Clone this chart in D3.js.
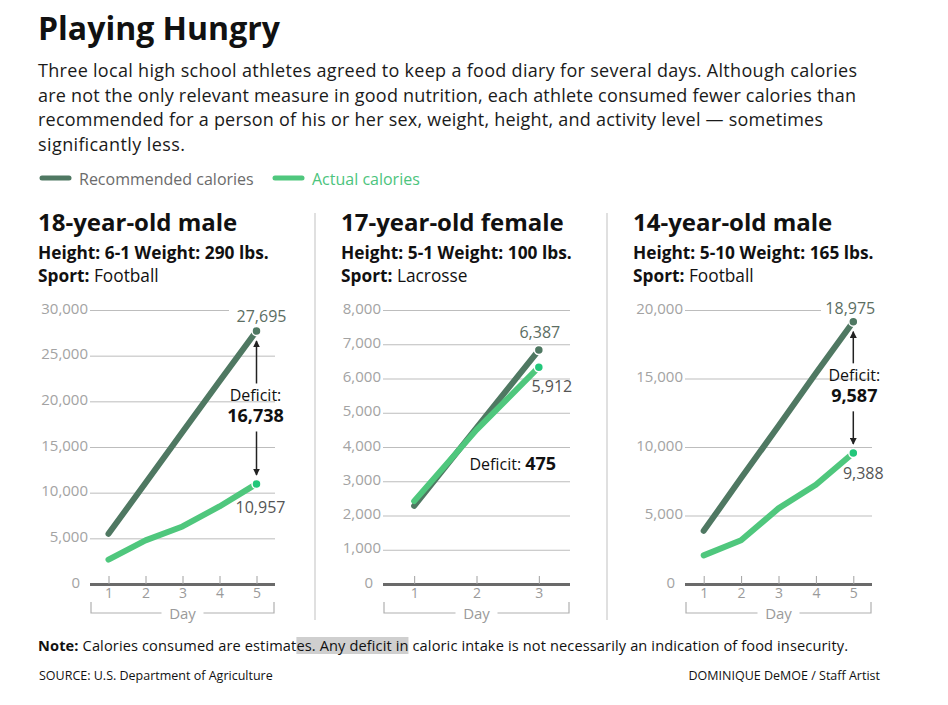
<!DOCTYPE html>
<html>
<head>
<meta charset="utf-8">
<script src="https://cdn.jsdelivr.net/npm/d3@7"></script>
<style>
  body { margin: 0; background: #fff; }
  text { font-family: "Open Sans", sans-serif; }
</style>
</head>
<body>
<script>
// chart data
const panelTitles = ["18-year-old male", "17-year-old female", "14-year-old male"];
const panelStats = ["Height: 6-1 Weight: 290 lbs.", "Height: 5-1 Weight: 100 lbs.", "Height: 5-10 Weight: 165 lbs."];
const sports = ["Football", "Lacrosse", "Football"];

const days1 = [1, 2, 3, 4, 5];
const recommended1 = [5500, 11050, 16650, 22200, 27695];
const actual1 = [2660, 4780, 6300, 8490, 10957];
const yTicks1 = [0, 5000, 10000, 15000, 20000, 25000, 30000];

const days2 = [1, 2, 3];
const recommended2 = [2280, 4560, 6830];
const actual2 = [2420, 4500, 6330];
const yTicks2 = [0, 1000, 2000, 3000, 4000, 5000, 6000, 7000, 8000];

const days3 = [1, 2, 3, 4, 5];
const recommended3 = [3880, 7730, 11530, 15380, 19150];
const actual3 = [2090, 3190, 5520, 7240, 9560];
const yTicks3 = [0, 5000, 10000, 15000, 20000];

const recLabels = ["27,695", "6,387", "18,975"];
const actLabels = ["10,957", "5,912", "9,388"];
const deficits = ["16,738", "475", "9,587"];

const descLines = [
  "Three local high school athletes agreed to keep a food diary for several days. Although calories",
  "are not the only relevant measure in good nutrition, each athlete consumed fewer calories than",
  "recommended for a person of his or her sex, weight, height, and activity level \u2014 sometimes",
  "significantly less."
];
const descWidths = [819, 818, 785, 147];

const recColor = "#4f7862", actColor = "#4fc77d", actDot = "#22c77a";

let svg = d3.select("body").append("svg")
  .attr("width", 948).attr("height", 705);

svg.append("defs").append("marker")
  .attr("id", "head")
  .attr("viewBox", "0 0 10 10")
  .attr("refX", 9).attr("refY", 5)
  .attr("markerWidth", 7).attr("markerHeight", 7)
  .attr("markerUnits", "userSpaceOnUse")
  .attr("orient", "auto")
  .append("path").attr("d", "M0,0L10,5L0,10Z").attr("fill", "#222");

// title + intro
svg.append("text").attr("x", 38).attr("y", 40)
  .attr("font-family", "Roboto").attr("font-weight", 700).attr("font-size", 32)
  .attr("fill", "#111").text("Playing Hungry");

svg.selectAll(".desc").data(descLines).enter().append("text")
  .attr("class", "desc")
  .attr("x", 38).attr("y", (d, i) => 77 + i * 24.5)
  .attr("font-size", 18).attr("fill", "#1a1a1a")
  .attr("textLength", (d, i) => descWidths[i]).attr("lengthAdjust", "spacing")
  .text(d => d);

// legend
let legend = [
  { name: "Recommended calories", color: recColor, text: "#6b6b6b", x: 42 },
  { name: "Actual calories", color: actColor, text: "#4cc47d", x: 275 }
];
legend.forEach(l => {
  svg.append("line").attr("x1", l.x).attr("x2", l.x + 27).attr("y1", 178).attr("y2", 178)
    .attr("stroke", l.color).attr("stroke-width", 5).attr("stroke-linecap", "round");
  svg.append("text").attr("x", l.x + 37).attr("y", 184.5)
    .attr("font-size", 16).attr("fill", l.text).text(l.name);
});

// separators
[315, 607].forEach(x => {
  svg.append("line").attr("x1", x).attr("x2", x).attr("y1", 213).attr("y2", 620)
    .attr("stroke", "#ccc").attr("stroke-width", 1.2);
});

let panels = [
  { days: days1, rec: recommended1, act: actual1, ticks: yTicks1, tx: 38, left: 90, right: 275, topCut: 229,
    recOff: [5, -9], actOff: [4, 29], defType: "stack", defDx: -1 },
  { days: days2, rec: recommended2, act: actual2, ticks: yTicks2, tx: 341, left: 383, right: 570, topCut: null,
    recOff: [1, -12], actOff: [13, 25], defType: "inline" },
  { days: days3, rec: recommended3, act: actual3, ticks: yTicks3, tx: 633, left: 685, right: 872, topCut: 821,
    recOff: [-3, -8], actOff: [10, 26], defType: "stack", defDx: 1 }
];

let y0 = 584, yTop = 310;

panels.forEach((p, i) => {
  let g = svg.append("g");

  g.append("text").attr("x", p.tx).attr("y", 231)
    .attr("font-family", "Roboto").attr("font-weight", 700).attr("font-size", 24)
    .attr("fill", "#111").text(panelTitles[i]);
  g.append("text").attr("x", p.tx).attr("y", 259)
    .attr("font-family", "Roboto").attr("font-weight", 700).attr("font-size", 17.3)
    .attr("fill", "#111").text(panelStats[i]);
  let sp = g.append("text").attr("x", p.tx).attr("y", 282)
    .attr("font-family", "Roboto").attr("font-size", 17.3).attr("fill", "#111");
  sp.append("tspan").attr("font-weight", 700).text("Sport:");
  sp.append("tspan").text(" " + sports[i]);

  let x = d3.scalePoint().domain(p.days).range([p.left, p.right]).padding(0.5);
  let y = d3.scaleLinear().domain([0, d3.max(p.ticks)]).range([y0, yTop]);

  // gridlines + y labels
  let ya = g.append("g")
    .attr("transform", "translate(" + p.left + ",0)")
    .call(d3.axisLeft(y).tickValues(p.ticks).tickSize(-(p.right - p.left)).tickPadding(2)
      .tickFormat(d3.format(",")));
  ya.select(".domain").remove();
  ya.selectAll(".tick line").attr("stroke", "#bdbdbd");
  ya.selectAll(".tick text")
    .attr("fill", "#a3a3a3").attr("font-size", 15).attr("font-family", "Lato, sans-serif")
    .attr("dy", "0.2em")
    .attr("x", d => d === 0 ? -10 : -2);
  if (p.topCut) {
    ya.selectAll(".tick").filter(d => d === d3.max(p.ticks)).select("line")
      .attr("x2", p.topCut - p.left);
  }
  ya.selectAll(".tick").filter(d => d === 0).select("line")
    .attr("stroke", "#6a6a6a").attr("stroke-width", 3);

  // x axis ticks (sit on top of the baseline)
  let xa = g.append("g")
    .attr("transform", "translate(0," + y0 + ")")
    .call(d3.axisBottom(x).tickSize(-8).tickPadding(4));
  xa.select(".domain").remove();
  xa.selectAll(".tick line").attr("stroke", "#a0a0a0");
  xa.selectAll(".tick text").attr("fill", "#9a9a9a").attr("font-size", 14)
    .attr("font-family", "Lato, sans-serif");

  // day bracket
  let mid = (p.left + p.right) / 2;
  g.append("path")
    .attr("d", "M" + (p.left + 1) + ",602V613H" + (mid - 21) + "M" + (mid + 21) + ",613H" + (p.right - 1) + "V602")
    .attr("fill", "none").attr("stroke", "#b0b0b0").attr("stroke-width", 1.2);
  g.append("text").attr("x", mid).attr("y", 619).attr("text-anchor", "middle")
    .attr("font-size", 15).attr("font-family", "Lato, sans-serif").attr("fill", "#9a9a9a").text("Day");

  // lines
  let line = d3.line().x((d, j) => x(p.days[j])).y(d => y(d));
  g.append("path").datum(p.rec).attr("d", line)
    .attr("fill", "none").attr("stroke", recColor).attr("stroke-width", 6)
    .attr("stroke-linecap", "round").attr("stroke-linejoin", "round");
  g.append("path").datum(p.act).attr("d", line)
    .attr("fill", "none").attr("stroke", actColor).attr("stroke-width", 6)
    .attr("stroke-linecap", "round").attr("stroke-linejoin", "round");

  let last = p.days[p.days.length - 1];
  let lx = x(last), ry = y(p.rec[p.rec.length - 1]), ay = y(p.act[p.act.length - 1]);
  g.append("circle").attr("cx", lx).attr("cy", ry).attr("r", 4.5)
    .attr("fill", recColor).attr("stroke", "#fff").attr("stroke-width", 1.5);
  g.append("circle").attr("cx", lx).attr("cy", ay).attr("r", 4.5)
    .attr("fill", actDot).attr("stroke", "#fff").attr("stroke-width", 1.5);

  g.append("text").attr("x", lx + p.recOff[0]).attr("y", ry + p.recOff[1])
    .attr("text-anchor", "middle").attr("font-size", 16).attr("font-family", "Lato, sans-serif")
    .attr("fill", "#5c6e63").text(recLabels[i]);
  g.append("text").attr("x", lx + p.actOff[0]).attr("y", ay + p.actOff[1])
    .attr("text-anchor", "middle").attr("font-size", 16).attr("font-family", "Lato, sans-serif")
    .attr("fill", "#555").text(actLabels[i]);

  // deficit annotation
  if (p.defType === "stack") {
    let m = (ry + ay) / 2;
    g.append("line").attr("x1", lx).attr("x2", lx).attr("y1", m - 24).attr("y2", ry + 10)
      .attr("stroke", "#222").attr("stroke-width", 1.5).attr("marker-end", "url(#head)");
    g.append("line").attr("x1", lx).attr("x2", lx).attr("y1", m + 24).attr("y2", ay - 9)
      .attr("stroke", "#222").attr("stroke-width", 1.5).attr("marker-end", "url(#head)");
    g.append("text").attr("x", lx + p.defDx).attr("y", m - 6).attr("text-anchor", "middle")
      .attr("font-family", "Roboto").attr("font-size", 16).attr("fill", "#111").text("Deficit:");
    g.append("text").attr("x", lx + p.defDx).attr("y", m + 15).attr("text-anchor", "middle")
      .attr("font-family", "Roboto").attr("font-weight", 700).attr("font-size", 18)
      .attr("fill", "#111").text(deficits[i]);
  } else {
    let t = g.append("text").attr("x", x(p.days[1]) - 7).attr("y", 470)
      .attr("font-family", "Roboto").attr("font-size", 16).attr("fill", "#111");
    t.append("tspan").text("Deficit: ");
    t.append("tspan").attr("font-weight", 700).attr("font-size", 18).text(deficits[i]);
  }
});

// footer
let note = svg.append("text").attr("x", 38).attr("y", 651)
  .attr("font-size", 14.6).attr("fill", "#111")
  .attr("textLength", 810).attr("lengthAdjust", "spacing");
note.append("tspan").attr("font-weight", 700).text("Note:");
note.append("tspan").text(" Calories consumed are estimates. Any deficit in caloric intake is not necessarily an indication of food insecurity.");

// selection highlight behind "es. Any deficit in"
let full = "Note: Calories consumed are estimates. Any deficit in caloric intake is not necessarily an indication of food insecurity.";
let s = full.indexOf("es. Any"), e = full.indexOf(" caloric");
let n = note.node();
let hx0 = n.getStartPositionOfChar(s).x, hx1 = n.getEndPositionOfChar(e - 1).x;
svg.insert("rect", "text").attr("x", hx0).attr("y", 637).attr("width", hx1 - hx0).attr("height", 17)
  .attr("fill", "#cfcfcf");

svg.append("text").attr("x", 39).attr("y", 680)
  .attr("font-size", 12.5).attr("fill", "#111").text("SOURCE: U.S. Department of Agriculture");
svg.append("text").attr("x", 880).attr("y", 680).attr("text-anchor", "end")
  .attr("font-size", 12.5).attr("fill", "#111").text("DOMINIQUE DeMOE / Staff Artist");
</script>
</body>
</html>
